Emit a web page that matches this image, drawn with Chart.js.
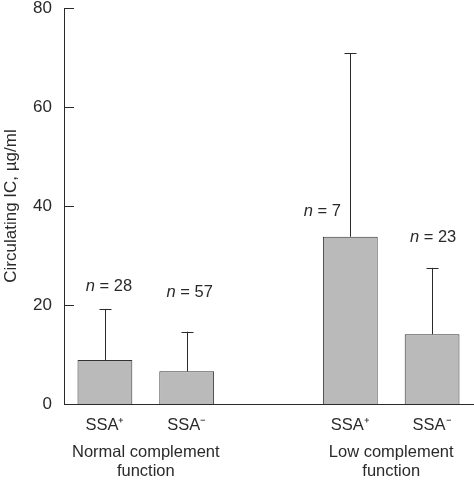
<!DOCTYPE html>
<html>
<head>
  <title>Circulating IC</title>
  <script src="https://cdn.jsdelivr.net/npm/chart.js@4.4.0/dist/chart.umd.min.js"></script>
  <style>
    body { margin: 0; background: #fff; }
    #wrap { width: 474px; height: 480px; }
  </style>
</head>
<body>
  <div id="wrap"><canvas id="myCanvas" width="474" height="480"></canvas></div>
  <script>
    // categories (empty slot makes the gap between the two groups)
    var categories = ['SSA\u207A', 'SSA\u207B', '', 'SSA\u207A', 'SSA\u207B'];
    var means = [8.9, 6.6, null, 33.8, 14.1];
    var upperErr = [19.2, 14.6, null, 70.9, 27.5];
    var nCounts = ['28', '57', '', '7', '23'];
    var nLabelValues = [23.8, 22.6, null, 38.9, 33.7];
    var groupNames = [['Normal complement', 'function'], ['Low complement', 'function']];
    var groupSlots = [[0, 1], [3, 4]];
    var yTicks = [0, 20, 40, 60, 80];

    // horizontal nudge of the n labels (px)
    var nShift = [4, 3, 0, -28, 1];

    var font = '"Liberation Sans", Arial, sans-serif';
    var ink = '#2a2a2a';
    var txt = 16.5;

    var extras = {
      id: 'extras',
      afterDatasetsDraw: function(chart) {
        var ctx = chart.ctx;
        var xs = chart.scales.x, ys = chart.scales.y;
        ctx.save();
        ctx.strokeStyle = ink;
        ctx.lineWidth = 1;
        // inward y ticks
        yTicks.forEach(function(v) {
          var py = Math.round(ys.getPixelForValue(v)) + 0.5;
          ctx.beginPath();
          ctx.moveTo(chart.chartArea.left, py);
          ctx.lineTo(chart.chartArea.left + 10, py);
          ctx.stroke();
        });
        // error bars (upper only)
        means.forEach(function(m, i) {
          if (m === null) return;
          var px = Math.round(xs.getPixelForValue(i)) + 0.5;
          var top = ys.getPixelForValue(upperErr[i]);
          var base = ys.getPixelForValue(m);
          ctx.beginPath();
          ctx.moveTo(px, base);
          ctx.lineTo(px, top);
          ctx.moveTo(px - 6, Math.round(top) + 0.5);
          ctx.lineTo(px + 6, Math.round(top) + 0.5);
          ctx.stroke();
        });
        // n = labels
        ctx.fillStyle = ink;
        ctx.textBaseline = 'middle';
        nCounts.forEach(function(n, i) {
          if (!n) return;
          var px = xs.getPixelForValue(i) + nShift[i];
          var py = ys.getPixelForValue(nLabelValues[i]);
          ctx.font = 'italic ' + txt + 'px ' + font;
          var w1 = ctx.measureText('n').width;
          ctx.font = txt + 'px ' + font;
          var rest = ' = ' + n;
          var w2 = ctx.measureText(rest).width;
          var x0 = px - (w1 + w2) / 2;
          ctx.textAlign = 'left';
          ctx.font = 'italic ' + txt + 'px ' + font;
          ctx.fillText('n', x0, py);
          ctx.font = txt + 'px ' + font;
          ctx.fillText(rest, x0 + w1, py);
        });
        // group labels
        ctx.textAlign = 'center';
        ctx.font = txt + 'px ' + font;
        groupNames.forEach(function(lines, g) {
          var a = xs.getPixelForValue(groupSlots[g][0]);
          var b = xs.getPixelForValue(groupSlots[g][1]);
          var cx = (a + b) / 2;
          lines.forEach(function(line, k) {
            ctx.fillText(line, cx, chart.chartArea.bottom + 48 + k * 19);
          });
        });
        ctx.restore();
      }
    };

    new Chart(document.getElementById('myCanvas'), {
      type: 'bar',
      data: {
        labels: categories,
        datasets: [{
          data: means,
          backgroundColor: '#bababa',
          borderColor: '#333333',
          borderWidth: 1,
          barPercentage: 0.67,
          categoryPercentage: 1.0
        }]
      },
      options: {
        responsive: false,
        animation: false,
        layout: { padding: { top: 8, right: 1, left: 0, bottom: 0 } },
        plugins: {
          legend: { display: false },
          tooltip: { enabled: false }
        },
        scales: {
          x: {
            grid: { display: false, drawTicks: false },
            border: { display: true, color: ink, width: 1 },
            ticks: { color: ink, font: { family: font, size: txt }, padding: 12 },
            afterFit: function(scale) { scale.height = 76; }
          },
          y: {
            min: 0,
            max: 80,
            afterBuildTicks: function(scale) {
              scale.ticks = yTicks.map(function(v) { return { value: v }; });
            },
            grid: { display: false, drawTicks: false },
            border: { display: true, color: ink, width: 1 },
            ticks: { color: ink, font: { family: font, size: 17 }, padding: 12 },
            title: {
              display: true,
              text: 'Circulating IC, \u00B5g/ml',
              color: ink,
              font: { family: font, size: 17 },
              padding: { top: 1, bottom: 4 }
            },
            afterFit: function(scale) {
              scale.width = 64;
              scale.paddingTop = 0;
              scale.paddingBottom = 0;
            }
          }
        }
      },
      plugins: [extras]
    });
  </script>
</body>
</html>
